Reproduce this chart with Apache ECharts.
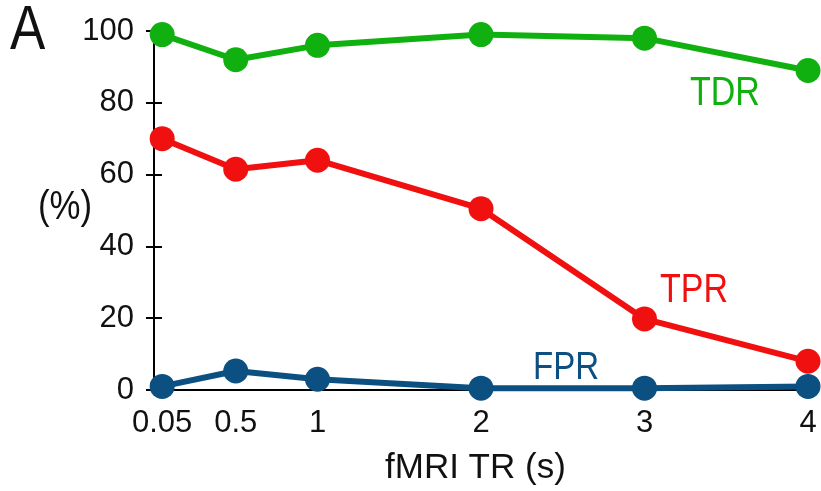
<!DOCTYPE html>
<html><head><meta charset="utf-8">
<script src="https://cdn.jsdelivr.net/npm/echarts@6/dist/echarts.min.js"></script>
<style>html,body{margin:0;padding:0;background:#fff}#c{width:821px;height:491px}</style>
</head><body><div id="c"></div>
<script>
const trValues = [0.05, 0.5, 1, 2, 3, 4];
const xTickLabels = ['0.05', '0.5', '1', '2', '3', '4'];
const yTicks = [0, 20, 40, 60, 80, 100];
const tdr = [99, 92, 96, 99, 98, 89];
const tpr = [70, 61.5, 64, 50.5, 19.8, 8];
const fpr = [1, 5.3, 3, 0.5, 0.5, 1];

const FONT = '"Liberation Sans", Arial, sans-serif';
const GREEN = '#10b010', RED = '#f01010', BLUE = '#0c5082';
const chart = echarts.init(document.getElementById('c'));
const pairs = arr => trValues.map((x, i) => [x, arr[i]]);
const mk = (name, data, color, z) => ({
  name, type: 'line', data: pairs(data), clip: false,
  symbol: 'circle', symbolSize: 25,
  lineStyle: { color, width: 6 }, itemStyle: { color }, z
});
const txt = (text, x, y, size, color, sx) => ({
  type: 'text', x, y, scaleX: sx,
  style: { text, font: size + 'px ' + FONT, fill: color, textVerticalAlign: 'top' }
});
chart.setOption({
  animation: false,
  grid: { left: 154, right: 13, top: 31, bottom: 101 },
  xAxis: [{
    type: 'value', min: 0, max: 4,
    axisLine: { show: true, lineStyle: { color: '#000', width: 2 } },
    axisTick: { show: false },
    splitLine: { show: false },
    axisLabel: { customValues: trValues, formatter: v => xTickLabels[trValues.indexOf(v)] ?? '',
      fontFamily: FONT, fontSize: 31, color: '#111', margin: 18 }
  }, {
    type: 'value', min: 0, max: 4, position: 'top',
    axisLine: { show: true, lineStyle: { color: '#000', width: 2 } },
    axisTick: { show: false }, axisLabel: { show: false }, splitLine: { show: false }
  }],
  yAxis: [{
    type: 'value', min: 0, max: 100, interval: 20,
    axisLine: { show: true, lineStyle: { color: '#000', width: 2 } },
    axisTick: { show: true, inside: true, length: 8, lineStyle: { color: '#000', width: 2 } },
    splitLine: { show: false },
    axisLabel: { customValues: yTicks, fontFamily: FONT, fontSize: 31, color: '#111', margin: 20 }
  }, {
    type: 'value', min: 0, max: 100, interval: 20, position: 'right',
    axisLine: { show: true, lineStyle: { color: '#000', width: 2 } },
    axisTick: { show: true, inside: true, length: 8, lineStyle: { color: '#000', width: 2 } },
    axisLabel: { show: false }, splitLine: { show: false }
  }],
  series: [
    mk('TDR', tdr, GREEN, 4),
    mk('TPR', tpr, RED, 4),
    mk('FPR', fpr, BLUE, 5)
  ],
  graphic: [
    txt('A', 10, 0, 63, '#111', 0.84),
    txt('(%)', 38, 188, 40, '#111', 0.87),
    txt('fMRI TR (s)', 385, 451, 35, '#111', 1.0),
    txt('TDR', 690, 74, 40, GREEN, 0.85),
    txt('TPR', 660, 271, 40, RED, 0.85),
    txt('FPR', 533, 350, 38, BLUE, 0.87)
  ]
});
</script></body></html>
